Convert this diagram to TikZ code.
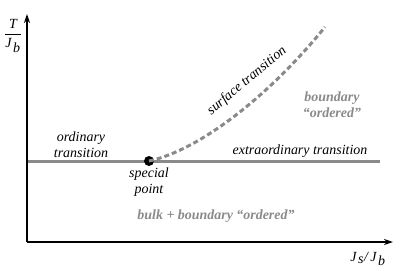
\documentclass[tikz,border=0pt]{standalone}
\usepackage{fontspec}
\setmainfont{Liberation Serif}
\usetikzlibrary{arrows.meta}
\definecolor{lgray}{HTML}{8A8A8A}
\tikzset{
  axis/.style={line width=1.4bp, -{Stealth[length=9bp,width=6bp]}},
  phaseline/.style={line width=3bp, lgray},
  surfline/.style={line width=3bp, lgray, dash pattern=on 5bp off 3bp},
  lab/.style={font=\itshape\fontsize{14}{16}\selectfont, inner sep=0pt, align=center},
  glab/.style={font=\bfseries\itshape\fontsize{14}{16}\selectfont, text=lgray, inner sep=0pt, align=center},
  dot/.style={circle, fill=black, inner sep=0pt, minimum size=10bp}
}
\begin{document}
\begin{tikzpicture}[x=1bp,y=-1bp]
\useasboundingbox (0,0) rectangle (407,271);
\coordinate (O) at (27,242);
\coordinate (Ytop) at (27,14);
\coordinate (Xend) at (393,242);
\coordinate (Lstart) at (27,161);
\coordinate (Lend) at (380,161);
\coordinate (Send) at (325,27);
\draw[phaseline] (Lstart) -- (Lend);
\node[dot] (sp) at (149,161) {};
\draw[surfline] (sp.center) .. controls (200,150) and (270,95) .. (Send);
\draw[axis] (O) -- (Ytop);
\draw[axis] (O) -- (Xend);
\node[lab] (ty) at (13,36) {$\displaystyle\frac{\textit{T}}{\textit{J}_{\,\textit{b}}}$};
\node[lab] (tx) at (368,259) {\textit{J}$_{\,\textit{s}}$/\,\textit{J}$_{\,\textit{b}}$};
\node[lab] (ord) at (81,145) {ordinary\\transition};
\node[lab] (spl) at (149,182) {special\\point};
\node[lab, rotate=40] (surf) at (247,81) {surface transition};
\node[lab] (extra) at (300,151) {extraordinary transition};
\node[glab] (bnd) at (332,105) {boundary\\``ordered''};
\node[glab] (bulk) at (216,216) {bulk + boundary ``ordered''};
\end{tikzpicture}
\end{document}
